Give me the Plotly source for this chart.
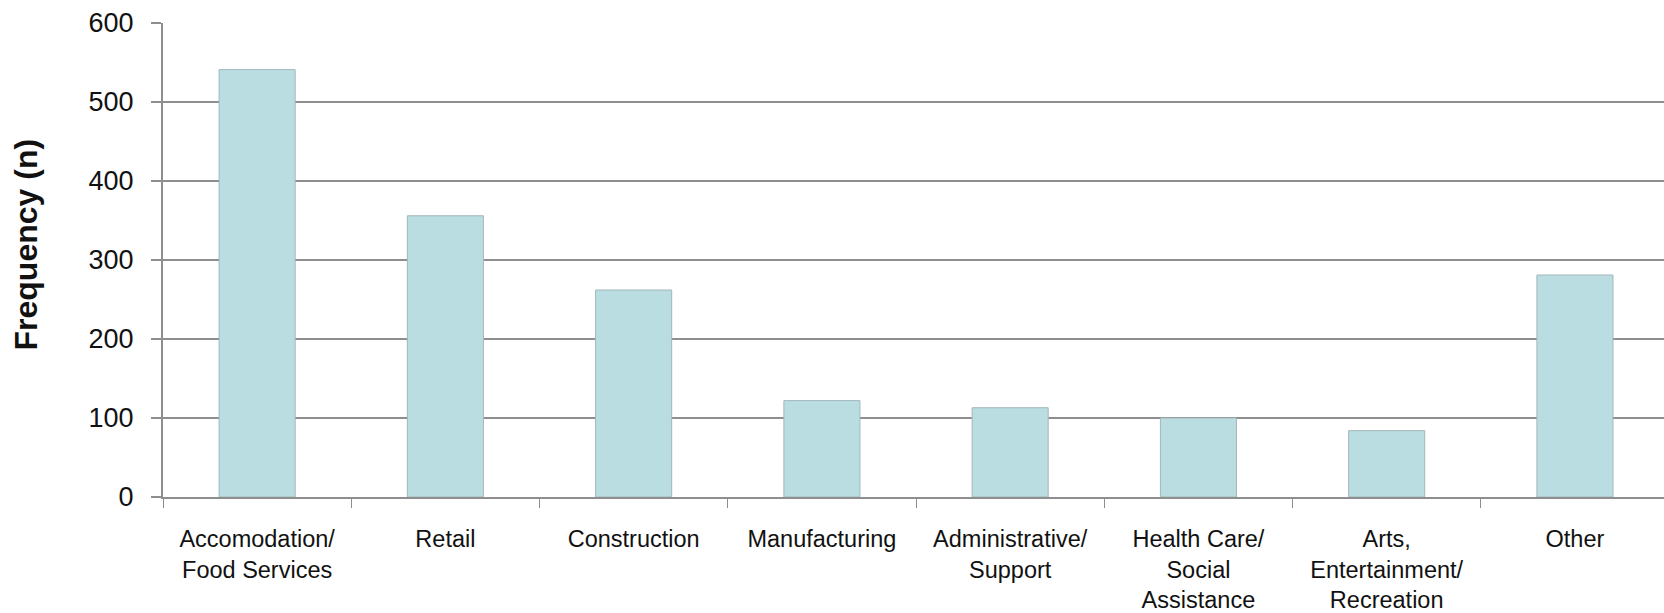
import plotly.graph_objects as go

# Industry categories (line breaks as displayed under the axis)
categories = [
    "Accomodation/<br>Food Services",
    "Retail",
    "Construction",
    "Manufacturing",
    "Administrative/<br>Support",
    "Health Care/<br>Social<br>Assistance",
    "Arts,<br>Entertainment/<br>Recreation",
    "Other",
]
frequency = [541, 356, 262, 122, 113, 100, 84, 281]
y_ticks = [0, 100, 200, 300, 400, 500, 600]

W, H = 1664, 613
FONT = "Liberation Sans, Arial, sans-serif"
GRID = "#8e8e8e"

fig = go.Figure(
    go.Bar(
        x=categories,
        y=frequency,
        marker=dict(color="#badde1", line=dict(color="#a3b6b9", width=1)),
        width=0.404,
        hoverinfo="skip",
    )
)

fig.update_layout(
    width=W,
    height=H,
    margin=dict(l=163, r=0, t=23, b=116),
    paper_bgcolor="white",
    plot_bgcolor="white",
    showlegend=False,
    font=dict(family=FONT, color="#111111"),
)

fig.update_xaxes(
    type="category",
    range=[-0.5, 7.473],
    automargin=False,
    tickson="boundaries",
    ticks="outside",
    ticklen=9,
    tickcolor=GRID,
    tickwidth=1,
    tickangle=0,
    showgrid=False,
    showline=True,
    linecolor=GRID,
    linewidth=2,
    tickfont=dict(size=23.5, family=FONT, color="#111111"),
    ticklabelstandoff=20,
)

fig.update_yaxes(
    range=[0, 600],
    automargin=False,
    tickmode="array",
    tickvals=y_ticks,
    ticks="outside",
    ticklen=10,
    tickcolor=GRID,
    tickwidth=2,
    showgrid=True,
    gridcolor=GRID,
    gridwidth=2,
    showline=True,
    linecolor=GRID,
    linewidth=2,
    zeroline=False,
    tickfont=dict(size=27, family=FONT, color="#111111"),
    ticklabelstandoff=12,
)

fig.add_annotation(
    text="<b>Frequency (n)</b>",
    textangle=-90,
    xref="paper",
    yref="paper",
    x=-0.0915,
    y=0.532,
    xanchor="center",
    yanchor="middle",
    showarrow=False,
    font=dict(size=32, family=FONT, color="#111111"),
)

fig.write_html("out.html")
